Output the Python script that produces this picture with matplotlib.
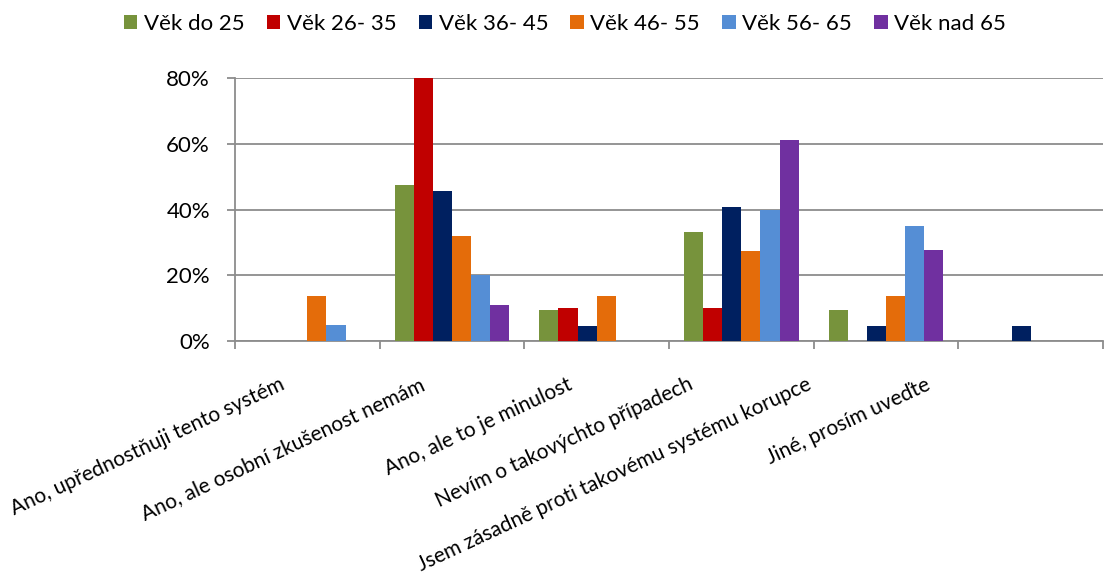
import matplotlib
matplotlib.use("Agg")
import matplotlib.pyplot as plt
import matplotlib.transforms as mtransforms
import numpy as np
from matplotlib.ticker import PercentFormatter, FixedLocator

plt.rcParams["font.family"] = ["Lato", "DejaVu Sans"]

CATEGORIES = [
    "Ano, upřednostňuji tento systém",
    "Ano, ale osobní zkušenost nemám",
    "Ano, ale to je minulost",
    "Nevím o takovýchto případech",
    "Jsem zásadně proti takovému systému korupce",
    "Jiné, prosím uveďte",
]
SERIES = ["Věk do 25", "Věk 26- 35", "Věk 36- 45", "Věk 46- 55", "Věk 56- 65", "Věk nad 65"]
COLORS = ["#77933C", "#C00000", "#002060", "#E46C0A", "#558ED5", "#7030A0"]

# percent, one list per age group, in category order
age_to25 = [0, 47.6, 9.5, 33.3, 9.5, 0]
age_26_35 = [0, 80.0, 10.0, 10.0, 0, 0]
age_36_45 = [0, 45.5, 4.5, 40.9, 4.5, 4.5]
age_46_55 = [13.6, 31.8, 13.6, 27.3, 13.6, 0]
age_56_65 = [5.0, 20.0, 0, 40.0, 35.0, 0]
age_over65 = [0, 11.1, 0, 61.1, 27.8, 0]
VALUES = [age_to25, age_26_35, age_36_45, age_46_55, age_56_65, age_over65]

GRID = "#8C8C8C"

fig = plt.figure(figsize=(11.1, 5.8), dpi=100)
ax = fig.add_axes([0.2117, 0.412, 0.782, 0.4535])

x = np.arange(len(CATEGORIES))
bw = 0.132
for i, (name, vals, col) in enumerate(zip(SERIES, VALUES, COLORS)):
    ax.bar(x + (i - 2.5) * bw, vals, width=bw, color=col, label=name,
           linewidth=0, zorder=3)

ax.set_xlim(-0.5, len(CATEGORIES) - 0.5)
ax.set_ylim(0, 80)
ax.yaxis.set_major_locator(FixedLocator([0, 20, 40, 60, 80]))
ax.yaxis.set_major_formatter(PercentFormatter(decimals=0))
ax.grid(axis="y", color=GRID, lw=1.3, zorder=0)
for s in ("top", "right"):
    ax.spines[s].set_visible(False)
for s in ("left", "bottom"):
    ax.spines[s].set_color(GRID)
    ax.spines[s].set_linewidth(1.3)
ax.tick_params(axis="y", length=6, width=1.3, color=GRID, labelsize=16, pad=12)

# category boundaries get the tick marks, labels sit at centres
ax.set_xticks(np.arange(len(CATEGORIES) + 1) - 0.5, minor=True)
ax.tick_params(axis="x", which="minor", length=6, width=1.3, color=GRID)
ax.set_xticks(x)
ax.set_xticklabels(CATEGORIES, rotation=25, ha="right", va="top",
                   rotation_mode="anchor", fontsize=15)
ax.tick_params(axis="x", which="major", length=0, pad=24)
shifts = [-28, -33, -30, -54, -80, -106]
for lab, dx in zip(ax.get_xticklabels(), shifts):
    lab.set_transform(lab.get_transform() +
                      mtransforms.ScaledTranslation(dx / 100, 0, fig.dpi_scale_trans))

fig.legend(loc="upper center", bbox_to_anchor=(0.509, 1.01), ncol=6,
           frameon=False, fontsize=16, handlelength=0.6, handleheight=0.6,
           handletextpad=0.3, columnspacing=1.0)

fig.savefig("out.png", dpi=100)
